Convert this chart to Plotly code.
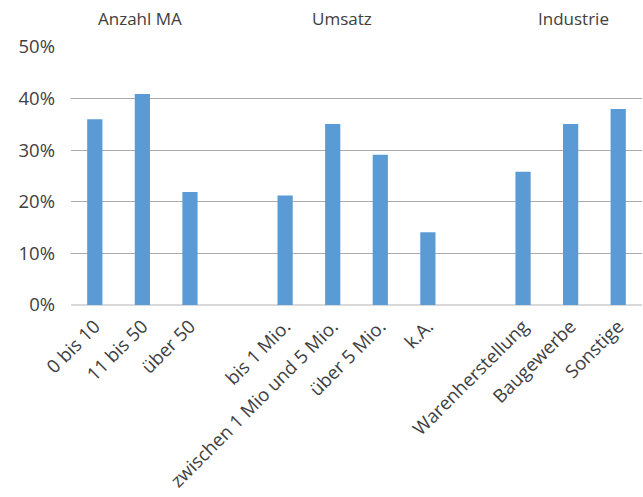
import plotly.graph_objects as go

# Data
groups = ["Anzahl MA", "Umsatz", "Industrie"]
cats_ma = ["0 bis 10", "11 bis 50", "über 50"]
vals_ma = [36.0, 40.9, 21.9]
cats_umsatz = ["bis 1 Mio.", "zwischen 1 Mio und 5 Mio.", "über 5 Mio.", "k.A."]
vals_umsatz = [21.2, 35.1, 29.1, 14.1]
cats_ind = ["Warenherstellung", "Baugewerbe", "Sonstige"]
vals_ind = [25.8, 35.1, 38.0]
y_ticks = [0, 10, 20, 30, 40, 50]
y_ticklabels = ["0%", "10%", "20%", "30%", "40%", "50%"]

gap1, gap2 = " ", "  "
categories = cats_ma + cats_umsatz + cats_ind
values = vals_ma + vals_umsatz + vals_ind
order = cats_ma + [gap1] + cats_umsatz + [gap2] + cats_ind

FONT = "Open Sans"
TXT = "#404040"
BLUE = "#5b9bd5"

fig = go.Figure()
fig.add_trace(go.Bar(x=categories, y=values, marker=dict(color=BLUE, line=dict(width=0)),
                     hoverinfo="x+y"))

fig.update_layout(
    width=643, height=497,
    margin=dict(l=71, r=1, t=47, b=192),
    plot_bgcolor="white", paper_bgcolor="white",
    showlegend=False,
    bargap=0.68,
    font=dict(family=FONT, color=TXT),
)
fig.update_xaxes(type="category", categoryorder="array", categoryarray=order,
                 tickangle=-45, tickfont=dict(size=18.5, color=TXT, family=FONT),
                 showgrid=False, showline=False, zeroline=False, ticks="",
                 ticklabelstandoff=6,
                 automargin=False, range=[-0.5, len(order) - 0.5])
fig.update_yaxes(range=[0, 50], tickvals=y_ticks, ticktext=y_ticklabels,
                 tickfont=dict(size=18.5, color=TXT, family=FONT),
                 showgrid=True, gridcolor="#ababab", gridwidth=1.3,
                 zeroline=True, zerolinecolor="#d9d9d9", zerolinewidth=1.5,
                 showline=False, ticks="", ticklabelstandoff=15, automargin=False)

group_x = [0.95, 5.2, 10.05]
for g, gx in zip(groups, group_x):
    fig.add_annotation(text=g, x=gx, xref="x", y=1.11, yref="paper",
                       showarrow=False, xanchor="center", yanchor="middle",
                       font=dict(size=17, color=TXT, family=FONT))

fig.write_html("out.html", config={"displayModeBar": False},
               post_script="document.body.style.margin='0';document.body.style.overflow='hidden';")
